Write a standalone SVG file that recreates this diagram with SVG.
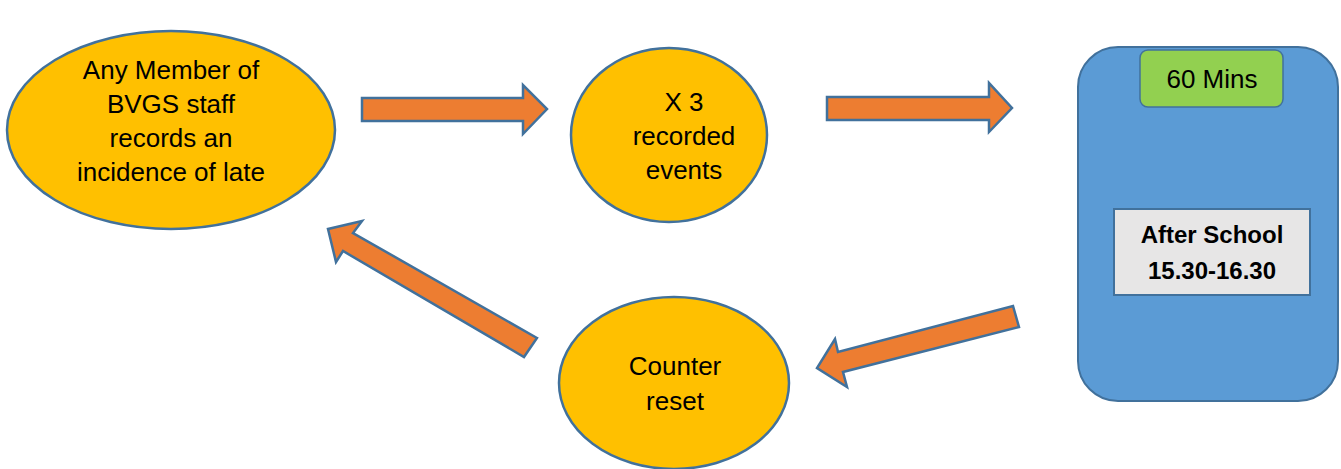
<svg xmlns="http://www.w3.org/2000/svg" width="1341" height="469" viewBox="0 0 1341 469">
  <style>
    .oval { fill: #FFC000; stroke: #41719C; stroke-width: 2.5; }
    .flow { fill: #ED7D31; stroke: #41719C; stroke-width: 2.5; stroke-linejoin: miter; }
    .lbl { font-family: "Liberation Sans", Arial, sans-serif; font-size: 26px; fill: #000; text-anchor: middle; }
    .bold { font-weight: bold; font-size: 24px; }
  </style>
  <rect width="1341" height="469" fill="#ffffff"/>

  <!-- block arrows -->
  <g id="connectors">
    <polygon class="flow" points="362,98 523,98 523,85 547,109 523,134 523,121 362,121"/>
    <polygon class="flow" points="827,97 989,97 989,83 1012,108 989,132 989,120 827,120"/>
    <polygon class="flow" points="1019,327 843,372 847,387 817,368 835,339 838,352 1013,306"/>
    <polygon class="flow" points="537,338 353,233 362,221 328,229 336,262 343,251 524,357"/>
  </g>

  <g id="staff-record">
    <ellipse class="oval" cx="171" cy="130" rx="164" ry="99"/>
    <text class="lbl" x="171" y="79">Any Member of</text>
    <text class="lbl" x="171" y="113">BVGS staff</text>
    <text class="lbl" x="171" y="147">records an</text>
    <text class="lbl" x="171" y="181">incidence of late</text>
  </g>

  <g id="three-events">
    <ellipse class="oval" cx="669" cy="135" rx="98" ry="87"/>
    <text class="lbl" x="684" y="111">X 3</text>
    <text class="lbl" x="684" y="145">recorded</text>
    <text class="lbl" x="684" y="179">events</text>
  </g>

  <g id="detention">
    <rect x="1078" y="47" width="260" height="354" rx="40" ry="40" fill="#5B9BD5" stroke="#41719C" stroke-width="2"/>
    <rect x="1140" y="50" width="143" height="57" rx="8" ry="8" fill="#92D050" stroke="#41719C" stroke-width="1.5"/>
    <text class="lbl" x="1212" y="88">60 Mins</text>
    <rect x="1114" y="209" width="196" height="86" fill="#E7E6E6" stroke="#41719C" stroke-width="2"/>
    <text class="lbl bold" x="1212" y="243">After School</text>
    <text class="lbl bold" x="1212" y="279">15.30-16.30</text>
  </g>

  <g id="counter-reset">
    <ellipse class="oval" cx="674" cy="383" rx="115" ry="86"/>
    <text class="lbl" x="675" y="375">Counter</text>
    <text class="lbl" x="675" y="410">reset</text>
  </g>
</svg>
